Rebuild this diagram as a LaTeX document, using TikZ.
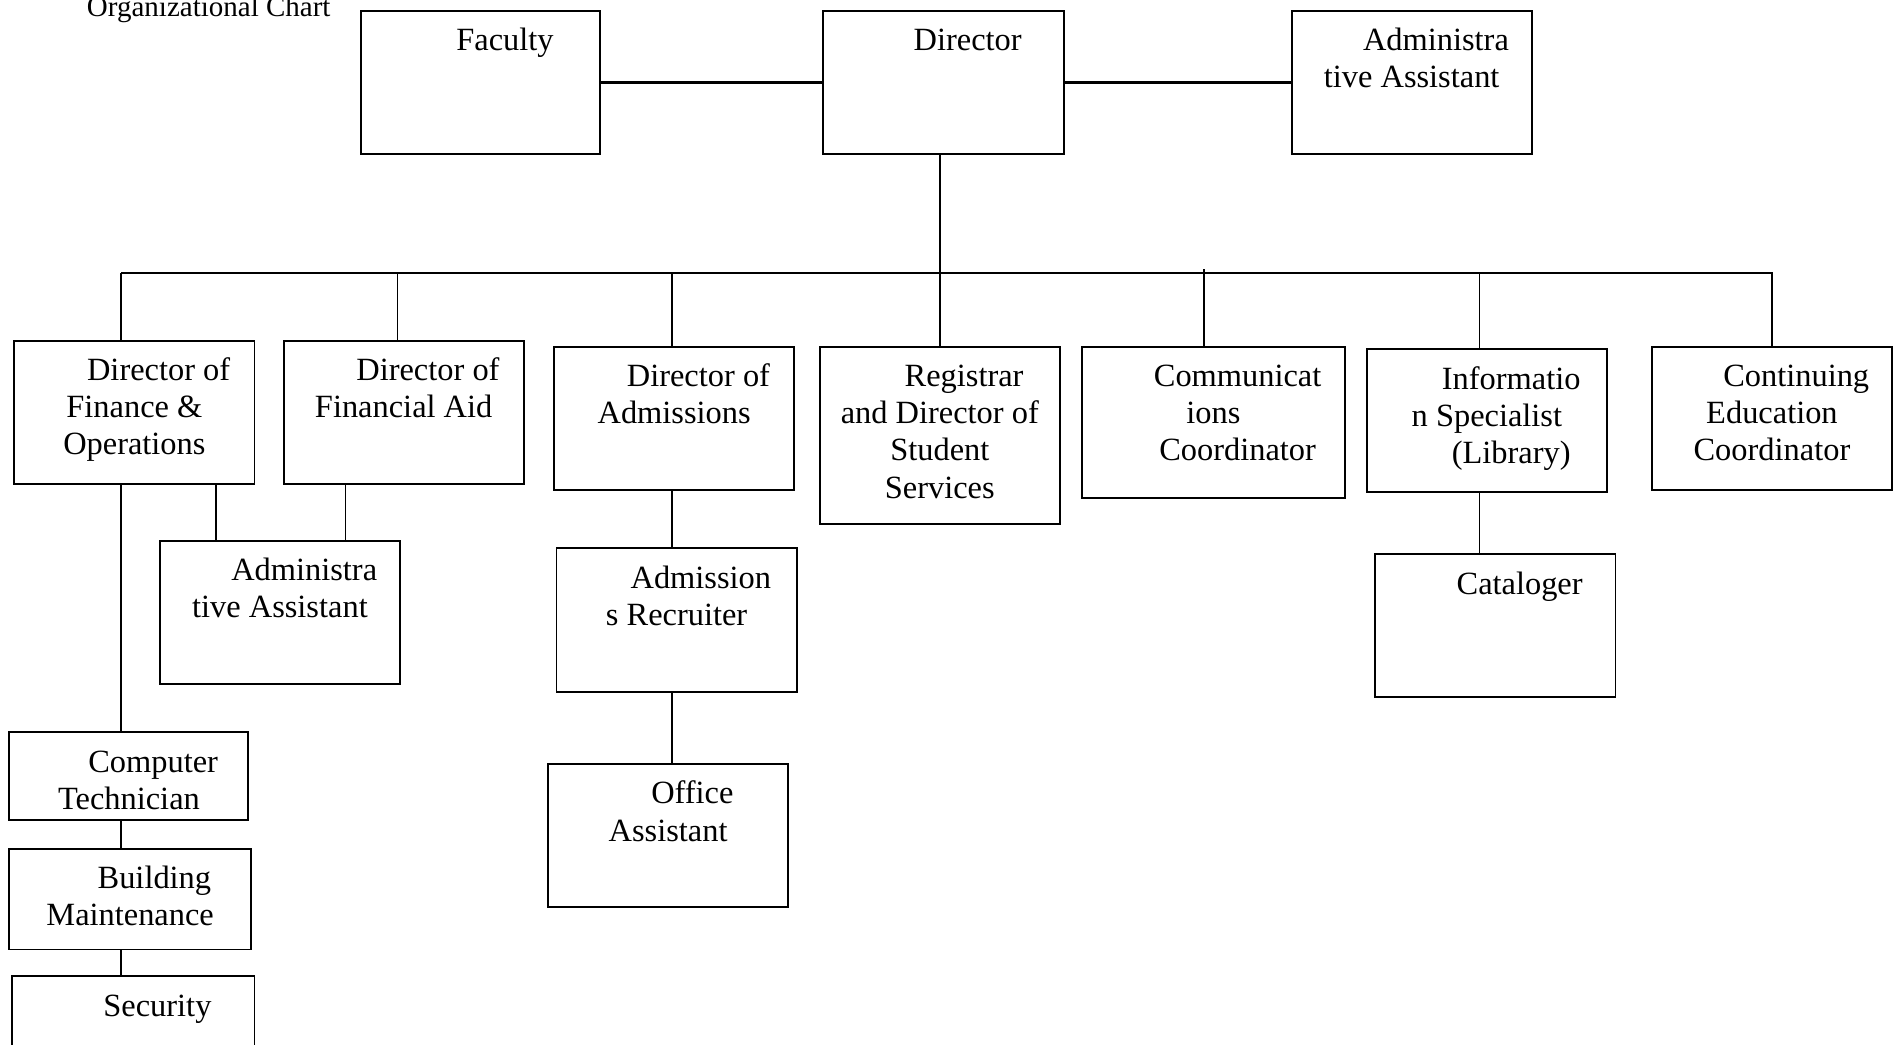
\documentclass[tikz,border=0pt]{standalone}
\usepackage{fontspec}
\setmainfont{Liberation Serif}
\usetikzlibrary{calc}

\newlength{\unitpx}
\setlength{\unitpx}{0.01cm}
% box text: width, height, lines (top aligned)
\newcommand{\card}[3]{\parbox[t][#2\unitpx][t]{#1\unitpx}{\centering\rule{0pt}{33\unitpx}#3}}
\newcommand{\ind}{\hspace*{40\unitpx}}

\tikzset{
	orgbox/.style={draw, line width=0.45pt, inner sep=0pt, anchor=north west,
		font=\fontsize{7.6}{8.7}\selectfont},
	link/.style={line width=0.4pt},
	toplink/.style={line width=0.7pt}
}

\begin{document}
\begin{tikzpicture}[x=0.01cm, y=-0.01cm]
	\useasboundingbox (0,0) rectangle (1568,861.5);
	\node[anchor=base west, inner sep=0pt, font=\fontsize{6.8}{8}\selectfont] (title) at (71,14) {Organizational Chart};

	% top row
	\node[orgbox] (fac) at (297,8) {\card{197}{118}{\ind Faculty}};
	\node[orgbox] (dir) at (678,8) {\card{198}{118}{\ind Director}};
	\node[orgbox] (aa1) at (1064,8) {\card{198}{118}{\ind Administra\\tive Assistant}};

	% second row
	\node[orgbox] (dfo) at (11,280) {\card{198}{118}{\ind Director of\\Finance \&\\Operations}};
	\node[orgbox] (dfa) at (233,280) {\card{198}{118}{\ind Director of\\Financial Aid}};
	\node[orgbox] (da) at (456,285) {\card{198}{118}{\ind Director of\\Admissions}};
	\node[orgbox] (reg) at (675,285) {\card{198}{146}{\ind Registrar\\and Director of\\Student\\Services}};
	\node[orgbox] (comm) at (891,285) {\card{217}{125}{\ind Communicat\\ions\\\ind Coordinator}};
	\node[orgbox] (info) at (1126,287) {\card{198}{118}{\ind Informatio\\n Specialist\\\ind (Library)}};
	\node[orgbox] (cec) at (1361,285) {\card{198}{118}{\ind Continuing\\Education\\Coordinator}};

	% lower boxes
	\node[orgbox] (aa2) at (131,445) {\card{198}{118}{\ind Administra\\tive Assistant}};
	\node[orgbox] (ar) at (458,451) {\card{198}{119}{\ind Admission\\s Recruiter}};
	\node[orgbox] (oa) at (451,629) {\card{198}{118}{\ind Office\\Assistant}};
	\node[orgbox] (cat) at (1133,456) {\card{198}{118}{\ind Cataloger}};
	\node[orgbox] (ct) at (7,603) {\card{197}{72}{\ind Computer\\Technician}};
	\node[orgbox] (bm) at (7,699) {\card{199}{83}{\ind Building\\Maintenance}};
	\node[orgbox] (sec) at (9,804) {\card{200}{80}{\ind Security}};

	% connectors
	\draw[toplink] (fac.east) -- (dir.west) (dir.east) -- (aa1.west);
	\coordinate (busL) at (100,225);
	\coordinate (busR) at (1462,225);
	\draw[link] (busL) -- (busR);
	\draw[link] (dir.south -| reg.north) -- (reg.north);
	\draw[link] (busL) -- (busL |- dfo.north);
	\foreach \nd/\dx in {dfa/-5, da/-2, info/-6, cec/0}
		\draw[link] ($(\nd.north)+(\dx,0)$) -- ($(\nd.north |- busL)+(\dx,0)$);
	\draw[link] ($(comm.north)+(-7.5,0)$) -- ($(comm.north |- busL)+(-7.5,-3)$);
	\draw[link] ($(dfo.south)+(67,0)$) -- ($(dfo.south |- aa2.north)+(67,0)$);
	\draw[link] ($(dfa.south)+(-48,0)$) -- ($(dfa.south |- aa2.north)+(-48,0)$);
	\draw[link] (busL |- dfo.south) -- (busL |- ct.north);
	\draw[link] (busL |- ct.south) -- (busL |- bm.north);
	\draw[link] (busL |- bm.south) -- (busL |- sec.north);
	\draw[link] ($(da.south)+(-2,0)$) -- ($(da.south |- ar.north)+(-2,0)$);
	\draw[link] ($(ar.south)+(-4,0)$) -- ($(ar.south |- oa.north)+(-4,0)$);
	\draw[link] ($(info.south)+(-6,0)$) -- ($(info.south |- cat.north)+(-6,0)$);
\end{tikzpicture}
\end{document}
